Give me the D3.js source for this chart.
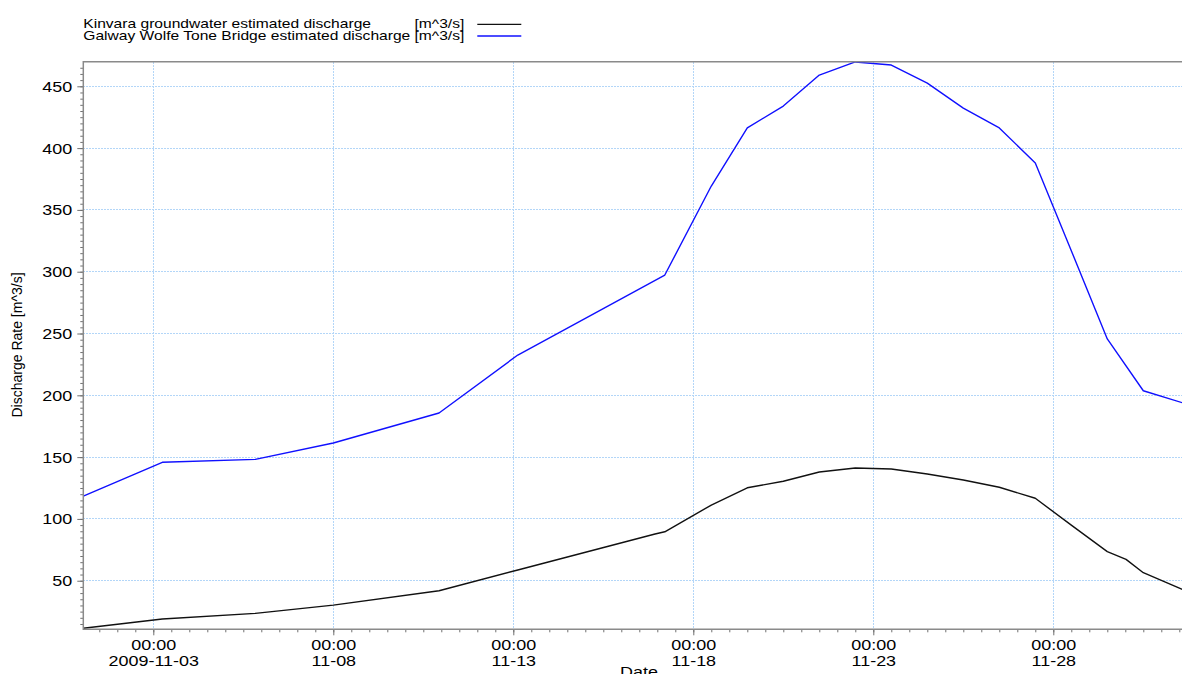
<!DOCTYPE html>
<meta charset="utf-8">
<style>

body {
  margin: 0;
  background: #fff;
}

text {
  font-family: "Liberation Sans", Arial, sans-serif;
  fill: #000;
}

.grid line {
  stroke: #b3d6f8;
  stroke-dasharray: 2,1;
  shape-rendering: crispEdges;
}

.axis line {
  stroke: #707070;
}

.frame {
  fill: none;
  stroke: #8a8a8a;
  stroke-width: 1.5;
}

.series {
  fill: none;
  stroke-width: 1.4;
  stroke-linejoin: round;
}

</style>
<body>
<script src="https://cdn.jsdelivr.net/npm/d3@7"></script>
<script>

// the lettering in the source picture is wider than it is tall
var SX = 1.3;

var seriesNames = ["Kinvara groundwater estimated discharge", "Galway Wolfe Tone Bridge estimated discharge"];
var unitLabel = "[m^3/s]";
var seriesColors = ["#111111", "#1010ff"];

var kinvaraTimes = ["2009-11-01 01:20", "2009-11-03 06:00", "2009-11-05 20:00", "2009-11-08 00:00",
  "2009-11-10 22:30", "2009-11-13 03:00", "2009-11-16 22:30", "2009-11-17 05:00", "2009-11-18 12:00",
  "2009-11-19 12:00", "2009-11-20 12:00", "2009-11-21 12:00", "2009-11-22 12:00", "2009-11-23 12:00",
  "2009-11-24 12:00", "2009-11-25 12:00", "2009-11-26 12:00", "2009-11-27 12:00", "2009-11-28 12:00",
  "2009-11-29 12:00", "2009-11-30 00:30", "2009-11-30 12:00", "2009-12-01 14:00"];
var kinvaraValues = [11.5, 19, 23.6, 30.3, 41.9, 58.7, 87.8, 89.6, 111.2, 125.2, 130.5, 138, 141.2,
  140.4, 136.3, 131.5, 125.6, 116.7, 95, 73.5, 67.3, 56.5, 43];

var galwayTimes = ["2009-11-01 01:20", "2009-11-03 06:00", "2009-11-05 20:00", "2009-11-08 00:00",
  "2009-11-10 22:30", "2009-11-13 03:00", "2009-11-17 05:00", "2009-11-18 12:00", "2009-11-19 12:00",
  "2009-11-20 12:00", "2009-11-21 12:00", "2009-11-22 12:00", "2009-11-23 12:00", "2009-11-24 12:00",
  "2009-11-25 12:00", "2009-11-26 12:00", "2009-11-27 12:00", "2009-11-28 12:00", "2009-11-29 12:00",
  "2009-11-30 12:00", "2009-12-01 14:00"];
var galwayValues = [118.5, 145.8, 148.2, 161.4, 185.7, 232.6, 297.3, 369.3, 416.3, 434, 459.1, 469.7,
  467.2, 452.6, 432.4, 416.3, 388, 317, 245.6, 203.7, 194];

var xTickDates = ["2009-11-03 00:00", "2009-11-08 00:00", "2009-11-13 00:00", "2009-11-18 00:00",
  "2009-11-23 00:00", "2009-11-28 00:00"];
var yTickValues = [50, 100, 150, 200, 250, 300, 350, 400, 450];
var xDomain = ["2009-11-01 01:20", "2009-12-01 13:48"];
var yDomain = [10.7, 469.9];

var parse = d3.timeParse("%Y-%m-%d %H:%M");
var fmtTime = d3.timeFormat("%H:%M"),
    fmtFirst = d3.timeFormat("%Y-%m-%d"),
    fmtDay = d3.timeFormat("%m-%d");

var m = {top: 61.7, right: 0, bottom: 44.7, left: 83.3},
    W = 1182, H = 674,
    w = W - m.left - m.right,
    h = H - m.top - m.bottom;

var x = d3.scaleTime().domain(xDomain.map(parse)).range([0, w]);
var y = d3.scaleLinear().domain(yDomain).range([h, 0]);

var xMajor = xTickDates.map(parse);
var xMinor = x.ticks(d3.timeHour.every(12));
var yMinor = d3.range(15, yDomain[1], 5);

var svg = d3.select("body").append("svg")
    .attr("width", W)
    .attr("height", H);

svg.append("defs").append("clipPath")
    .attr("id", "clip")
  .append("rect")
    .attr("y", -2)
    .attr("width", w)
    .attr("height", h + 4);

var g = svg.append("g")
    .attr("transform", "translate(" + m.left + "," + m.top + ")");

// grid
var grid = g.append("g").attr("class", "grid");
grid.selectAll("line.h")
    .data(yTickValues)
  .enter().append("line")
    .attr("class", "h")
    .attr("x1", 0).attr("x2", w)
    .attr("y1", function(d) { return y(d); })
    .attr("y2", function(d) { return y(d); });
grid.selectAll("line.v")
    .data(xMajor)
  .enter().append("line")
    .attr("class", "v")
    .attr("y1", 0).attr("y2", h)
    .attr("x1", function(d) { return x(d); })
    .attr("x2", function(d) { return x(d); });

// axes: minor and major tick marks
function stripDomain(sel) { sel.select(".domain").remove(); }

g.append("g").attr("class", "axis")
    .call(d3.axisLeft(y).tickValues(yMinor).tickSize(3).tickFormat(""))
    .call(stripDomain);

var yAxis = g.append("g").attr("class", "axis")
    .call(d3.axisLeft(y).tickValues(yTickValues).tickSize(6).tickFormat(d3.format("d")))
    .call(stripDomain);
yAxis.selectAll("text")
    .attr("x", null)
    .attr("dy", "0.36em")
    .attr("fill", "#000")
    .attr("font-size", 13.8)
    .attr("transform", "translate(-11,0) scale(" + SX + ",1)");

g.append("g").attr("class", "axis")
    .attr("transform", "translate(0," + h + ")")
    .call(d3.axisBottom(x).tickValues(xMinor).tickSize(3).tickFormat(""))
    .call(stripDomain);

var xAxis = g.append("g").attr("class", "axis")
    .attr("transform", "translate(0," + h + ")")
    .call(d3.axisBottom(x).tickValues(xMajor).tickSize(6).tickFormat(""))
    .call(stripDomain);
xAxis.selectAll(".tick text").remove();
xAxis.selectAll(".tick").each(function(d, i) {
  var t = d3.select(this);
  t.append("text")
      .attr("text-anchor", "middle")
      .attr("font-size", 13.8)
      .attr("transform", "translate(0,20.4) scale(" + SX + ",1)")
      .text(fmtTime(d));
  t.append("text")
      .attr("text-anchor", "middle")
      .attr("font-size", 13.8)
      .attr("transform", "translate(0,37) scale(" + SX + ",1)")
      .text(i === 0 ? fmtFirst(d) : fmtDay(d));
});

// series
var line = d3.line()
    .x(function(d) { return x(d.t); })
    .y(function(d) { return y(d.v); });

var series = [
  {times: kinvaraTimes, values: kinvaraValues},
  {times: galwayTimes, values: galwayValues}
].map(function(s) {
  return s.times.map(function(t, i) { return {t: parse(t), v: s.values[i]}; });
});

g.append("g")
    .attr("clip-path", "url(#clip)")
  .selectAll("path")
    .data(series)
  .enter().append("path")
    .attr("class", "series")
    .attr("stroke", function(d, i) { return seriesColors[i]; })
    .attr("d", line);

// frame (right side runs past the picture)
g.append("path")
    .attr("class", "frame")
    .attr("d", "M" + (w + 5) + ",0H0V" + h + "H" + (w + 5));

// axis titles
svg.append("text")
    .attr("text-anchor", "middle")
    .attr("font-size", 14)
    .attr("transform", "translate(22,345) rotate(-90)")
    .text("Discharge Rate " + unitLabel);

svg.append("text")
    .attr("text-anchor", "middle")
    .attr("font-size", 13.8)
    .attr("transform", "translate(639,677.4) scale(" + SX + ",1)")
    .text("Date");

// legend
var legend = svg.append("g").attr("transform", "translate(" + m.left + ",0)");
var rowY = [28.3, 40];
var names = legend.selectAll("text.name")
    .data(seriesNames)
  .enter().append("text")
    .attr("class", "name")
    .attr("font-size", 12)
    .attr("transform", function(d, i) { return "translate(0," + rowY[i] + ") scale(" + SX + ",1)"; })
    .text(function(d) { return d; });

var nameW = 0;
names.each(function() { nameW = Math.max(nameW, this.getComputedTextLength()); });
var unitX = SX * (nameW + 3.3);

var units = legend.selectAll("text.unit")
    .data(seriesNames)
  .enter().append("text")
    .attr("class", "unit")
    .attr("font-size", 12)
    .attr("transform", function(d, i) { return "translate(" + unitX + "," + rowY[i] + ") scale(" + SX + ",1)"; })
    .text(unitLabel);

var unitW = SX * units.node().getComputedTextLength();
legend.selectAll("line")
    .data(seriesNames)
  .enter().append("line")
    .attr("x1", unitX + unitW + 13)
    .attr("x2", unitX + unitW + 57)
    .attr("y1", function(d, i) { return rowY[i] - 4; })
    .attr("y2", function(d, i) { return rowY[i] - 4; })
    .attr("stroke", function(d, i) { return seriesColors[i]; })
    .attr("stroke-width", 1.3);

</script>
